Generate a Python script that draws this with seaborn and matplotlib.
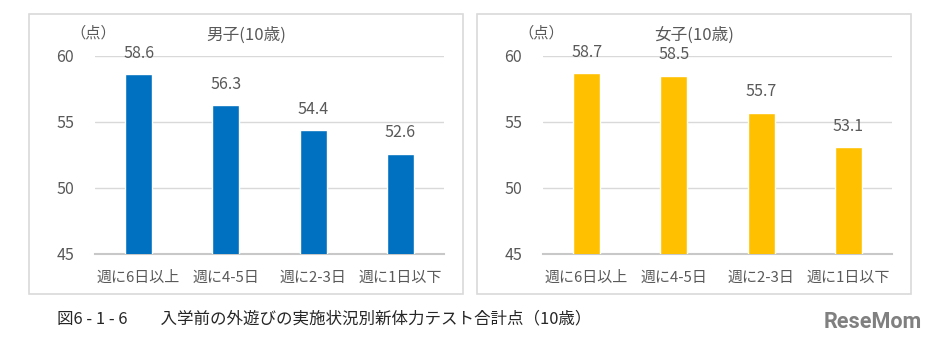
import matplotlib
matplotlib.use("Agg")
import matplotlib.pyplot as plt
import seaborn as sns
import pandas as pd
from matplotlib.patches import Rectangle

categories = ["週に6日以上", "週に4-5日", "週に2-3日", "週に1日以下"]
boys_values = [58.6, 56.3, 54.4, 52.6]
girls_values = [58.7, 58.5, 55.7, 53.1]
panel_titles = ["男子(10歳)", "女子(10歳)"]
y_ticks = [45, 50, 55, 60]
caption = "図6 - 1 - 6　　入学前の外遊びの実施状況別新体力テスト合計点（10歳）"

sns.set_theme(style="white")
plt.rcParams["font.family"] = ["Noto Sans CJK JP", "DejaVu Sans"]

TEXT = "#595959"
W, H = 934, 345
fig = plt.figure(figsize=(W / 100, H / 100), dpi=100)
fig.patch.set_facecolor("white")

def fx(px):
    return px / W

def fy(py):
    return 1 - py / H

panels = [
    dict(vals=boys_values, color="#0070C0", title=panel_titles[0], box=(29, 463), plot=(95, 444)),
    dict(vals=girls_values, color="#FFC000", title=panel_titles[1], box=(477, 911), plot=(543, 892)),
]

for p in panels:
    bx0, bx1 = p["box"]
    fig.patches.append(Rectangle((fx(bx0), fy(294)), fx(bx1 - bx0), (294 - 14) / H,
                                 transform=fig.transFigure, fill=False,
                                 edgecolor="#D9D9D9", linewidth=1.2, zorder=0))
    px0, px1 = p["plot"]
    ax = fig.add_axes([fx(px0), fy(254), fx(px1 - px0), (254 - 56) / H])
    df = pd.DataFrame({"cat": categories, "val": p["vals"]})
    sns.barplot(data=df, x="cat", y="val", color=p["color"], width=0.31,
                saturation=1, ax=ax, zorder=3)
    ax.set_ylim(45, 60)
    ax.set_xlim(-0.5, 3.5)
    ax.set_yticks(y_ticks, labels=[str(t) for t in y_ticks], fontsize=11.5)
    ax.yaxis.grid(True, color="#D9D9D9", linewidth=1.0, zorder=0)
    ax.set_axisbelow(True)
    for s in ["top", "right", "left"]:
        ax.spines[s].set_visible(False)
    ax.spines["bottom"].set_color("#C8C8C8")
    ax.spines["bottom"].set_linewidth(1.5)
    ax.tick_params(axis="both", length=0, colors=TEXT)
    ax.tick_params(axis="x", pad=12, labelsize=10.8)
    ax.tick_params(axis="y", pad=15)
    ax.set_xlabel("")
    ax.set_ylabel("")
    for i, v in enumerate(p["vals"]):
        ax.annotate(f"{v:.1f}", (i, v), xytext=(0, 15), textcoords="offset points",
                    ha="center", va="center", fontsize=11.5, color=TEXT,
                    annotation_clip=False)
    fig.text(fx((bx0 + bx1) / 2), fy(35), p["title"], ha="center", va="center",
             fontsize=12, color=TEXT)
    fig.text(fx(px0 - 2), fy(33), "（点）", ha="center", va="center",
             fontsize=11, color=TEXT)

fig.text(fx(57), fy(318.5), caption, ha="left", va="center", fontsize=11.9, color="#262626")
fig.text(fx(922), fy(322), "ReseMom", ha="right", va="center", fontsize=15.5,
         fontweight="bold", color="#808080", family=["Roboto"])

fig.savefig("out.png", dpi=100, facecolor="white")
